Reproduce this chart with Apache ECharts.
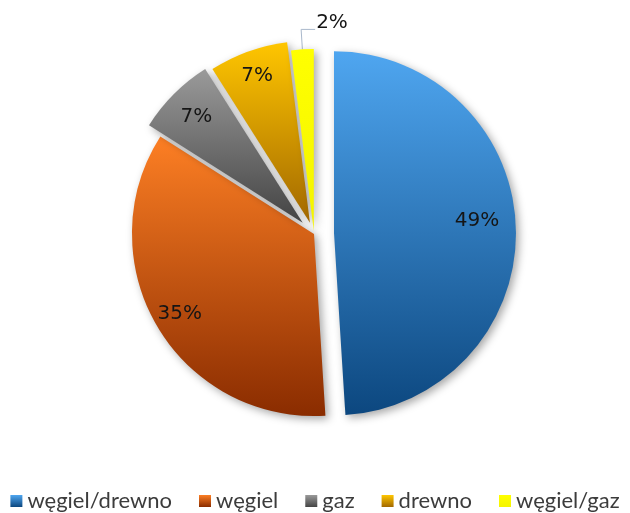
<!DOCTYPE html>
<html>
<head>
<meta charset="utf-8">
<script src="https://cdn.jsdelivr.net/npm/echarts@6/dist/echarts.min.js"></script>
<style>
  html, body { margin: 0; background: #fff; }
  #chart { width: 630px; height: 513px; }
</style>
</head>
<body>
<div id="chart"></div>
<script>
// dane
var names = ['węgiel/drewno', 'węgiel', 'gaz', 'drewno', 'węgiel/gaz'];
var values = [49, 35, 7, 7, 2];

// wygląd: gradient góra -> dół, wysunięcie wycinka, odległość etykiety (ułamek promienia)
var gradients = [
  ['#4fa6f0', '#0c477f'],
  ['#fd7f24', '#8a2c00'],
  ['#9a9a9a', '#444444'],
  ['#ffc600', '#a26800'],
  ['#ffff00', '#f4f400']
];
var explode = [20, 0, 16, 12, 3];
var labelRatio = [0.77, 0.84, 0.81, 0.84, 0];
var cx = 314, cy = 234, R = 182;

var total = values.reduce(function (a, b) { return a + b; }, 0);
var mids = [];
var cum = 0;
values.forEach(function (v) {
  mids.push((cum + v / 2) / total * Math.PI * 2);
  cum += v;
});

function grad(c) {
  return new echarts.graphic.LinearGradient(0, 0, 0, 1, [
    { offset: 0, color: c[0] },
    { offset: 1, color: c[1] }
  ]);
}

var chart = echarts.init(document.getElementById('chart'));

// każdy wycinek to osobna seria (te same kąty), żeby mógł być inaczej wysunięty
var series = names.map(function (nm, i) {
  var sx = Math.sin(mids[i]), sy = -Math.cos(mids[i]);
  var outside = labelRatio[i] === 0;
  return {
    type: 'pie',
    silent: true,
    animation: false,
    center: [cx + explode[i] * sx, cy + explode[i] * sy],
    radius: R,
    startAngle: 90,
    clockwise: true,
    avoidLabelOverlap: false,
    emphasis: { disabled: true },
    data: values.map(function (v, j) {
      if (j !== i) {
        return {
          value: v, name: names[j],
          itemStyle: { color: 'transparent', borderWidth: 0 },
          label: { show: false },
          labelLine: { show: false }
        };
      }
      return {
        value: v, name: names[j],
        itemStyle: {
          color: grad(gradients[j]),
          shadowBlur: 8,
          shadowOffsetX: 3,
          shadowOffsetY: 3,
          shadowColor: 'rgba(0,0,0,0.35)'
        }
      };
    }),
    label: {
      show: true,
      position: outside ? 'outside' : 'inside',
      formatter: function (p) { return Math.round(p.percent) + '%'; },
      fontFamily: 'DejaVu Sans',
      fontSize: 20,
      color: '#151515'
    },
    labelLine: {
      show: outside,
      length: 20,
      length2: 14,
      lineStyle: { color: '#a9b8cb', width: 1 }
    },
    labelLayout: function (p) {
      if (p.dataIndex !== i) return {};
      if (!outside) {
        var push = (labelRatio[i] - 0.5) * R;
        return { dx: sx * push, dy: sy * push - (i === 0 ? 8 : 0) };
      }
      var pts = p.labelLinePoints;
      if (!pts || pts.length < 3) return {};
      var len2 = Math.abs(pts[2][0] - pts[1][0]);
      var end = [pts[1][0] + len2, pts[1][1]];
      return {
        labelLinePoints: [pts[0], pts[1], end],
        x: end[0] + 1,
        y: end[1] + 3,
        align: 'left',
        verticalAlign: 'bottom'
      };
    }
  };
});

chart.setOption({
  backgroundColor: '#fff',
  legend: {
    left: 'center',
    top: 485,
    itemWidth: 12,
    itemHeight: 12,
    itemGap: 27,
    icon: 'rect',
    selectedMode: false,
    textStyle: { fontFamily: 'Lato', fontSize: 22, color: '#3c3c3c' },
    itemStyle: { shadowBlur: 0, borderWidth: 0 },
    data: names.map(function (nm, i) {
      return { name: nm, itemStyle: { color: grad(gradients[i]) } };
    })
  },
  series: series
});
</script>
</body>
</html>
